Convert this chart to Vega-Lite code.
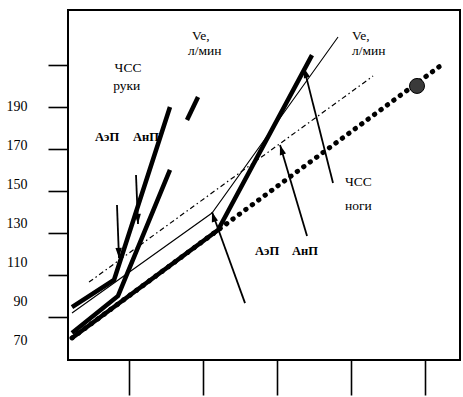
{
  "$schema": "https://vega.github.io/schema/vega-lite/v6.json",
  "width": 392,
  "height": 350,
  "autosize": {"type": "none"},
  "padding": {"left": 68, "top": 10, "right": 3, "bottom": 37},
  "background": "white",
  "config": {
    "view": {"stroke": "black", "strokeWidth": 2},
    "axis": {"domain": false, "grid": false, "tickColor": "black", "labelColor": "black", "title": null}
  },
  "datasets": {
    "lines": [
      {"series": "ruki_a", "x": 0.224, "y": 94.7},
      {"series": "ruki_a", "x": 0.792, "y": 107.6},
      {"series": "ruki_a", "x": 1.548, "y": 190.0},
      {"series": "ruki_b", "x": 0.224, "y": 82.4},
      {"series": "ruki_b", "x": 0.846, "y": 100.0},
      {"series": "ruki_b", "x": 1.548, "y": 160.0},
      {"series": "ruki_b2", "x": 1.778, "y": 183.8},
      {"series": "ruki_b2", "x": 1.927, "y": 194.7},
      {"series": "nogi", "x": 0.224, "y": 80.0},
      {"series": "nogi", "x": 2.197, "y": 131.4},
      {"series": "nogi", "x": 3.467, "y": 214.7},
      {"series": "ve", "x": 0.224, "y": 91.9},
      {"series": "ve", "x": 2.116, "y": 139.5},
      {"series": "ve", "x": 3.819, "y": 223.3},
      {"series": "dashdot", "x": 0.454, "y": 106.6},
      {"series": "dashdot", "x": 4.292, "y": 204.7},
      {"series": "dotted", "x": 0.224, "y": 80.0},
      {"series": "dotted", "x": 5.237, "y": 210.5}
    ],
    "arrows": [
      {"x": 0.832, "y": 143.3, "x2": 0.859, "y2": 118.1, "dir": "down"},
      {"x": 1.089, "y": 157.6, "x2": 1.116, "y2": 134.3, "dir": "down"},
      {"x": 2.562, "y": 96.6, "x2": 2.116, "y2": 140.0, "dir": "up"},
      {"x": 3.400, "y": 128.5, "x2": 3.035, "y2": 171.9, "dir": "up"},
      {"x": 3.751, "y": 153.8, "x2": 3.359, "y2": 208.5, "dir": "up"}
    ],
    "labels": [
      {"text": "ЧСС", "kind": "name", "x": 0.80, "y": 208.6},
      {"text": "руки", "kind": "name", "x": 0.78, "y": 200.0},
      {"text": "Ve,", "kind": "name", "x": 1.846, "y": 223.8},
      {"text": "л/мин", "kind": "name", "x": 1.792, "y": 216.6},
      {"text": "Ve,", "kind": "name", "x": 4.008, "y": 223.8},
      {"text": "л/мин", "kind": "name", "x": 4.008, "y": 216.6},
      {"text": "ЧСС", "kind": "name", "x": 3.913, "y": 154.3},
      {"text": "ноги", "kind": "name", "x": 3.913, "y": 142.8},
      {"text": "АэП", "kind": "threshold", "x": 0.535, "y": 175.7},
      {"text": "АнП", "kind": "threshold", "x": 1.048, "y": 175.7},
      {"text": "АэП", "kind": "threshold", "x": 2.697, "y": 121.4},
      {"text": "АнП", "kind": "threshold", "x": 3.197, "y": 121.4}
    ],
    "marker": [
      {"x": 4.886, "y": 200.0}
    ]
  },
  "encoding": {
    "x": {
      "field": "x", "type": "quantitative",
      "scale": {"domain": [0.17, 5.467], "nice": false, "zero": false},
      "axis": {"values": [1, 2, 3, 4, 5], "labels": false, "tickSize": 35, "tickWidth": 1.6}
    },
    "y": {
      "field": "y", "type": "quantitative",
      "scale": {"domain": [69.5, 236.17], "nice": false, "zero": false},
      "axis": {
        "values": [70, 90, 110, 130, 150, 170, 190, 210],
        "labelExpr": "datum.value == 210 ? '' : datum.label",
        "tickSize": 20,
        "tickWidth": 1.6,
        "tickOpacity": {"condition": {"test": "datum.value == 70", "value": 0}, "value": 1},
        "labelOffset": {"expr": "(datum.value - 190) * 0.155"},
        "labelPadding": 21,
        "labelFont": "Liberation Serif",
        "labelFontSize": 14
      }
    }
  },
  "layer": [
    {
      "data": {"name": "lines"},
      "transform": [{"filter": "datum.series == 'dotted'"}],
      "mark": {"type": "line", "color": "black", "strokeWidth": 5, "strokeCap": "round", "strokeDash": [0.5, 7.5]},
      "encoding": {"detail": {"field": "series"}}
    },
    {
      "data": {"name": "lines"},
      "transform": [{"filter": "datum.series == 'ruki_a' || datum.series == 'ruki_b' || datum.series == 'ruki_b2' || datum.series == 'nogi'"}],
      "mark": {"type": "line", "color": "black", "strokeWidth": 4.5, "strokeCap": "butt"},
      "encoding": {"detail": {"field": "series"}}
    },
    {
      "data": {"name": "lines"},
      "transform": [{"filter": "datum.series == 've'"}],
      "mark": {"type": "line", "color": "black", "strokeWidth": 1.1},
      "encoding": {"detail": {"field": "series"}}
    },
    {
      "data": {"name": "lines"},
      "transform": [{"filter": "datum.series == 'dashdot'"}],
      "mark": {"type": "line", "color": "black", "strokeWidth": 1.2, "strokeDash": [5, 3, 1.5, 3]},
      "encoding": {"detail": {"field": "series"}}
    },
    {
      "data": {"name": "marker"},
      "mark": {"type": "point", "shape": "circle", "filled": true, "size": 225, "fill": "#3a3a3a", "stroke": "black", "strokeWidth": 1, "opacity": 1}
    },
    {
      "data": {"name": "arrows"},
      "mark": {"type": "rule", "color": "black", "strokeWidth": 1.8},
      "encoding": {"x2": {"field": "x2"}, "y2": {"field": "y2"}}
    },
    {
      "data": {"name": "arrows"},
      "transform": [{"filter": "datum.dir == 'down'"}],
      "mark": {"type": "point", "shape": "M0,0L-0.8,2.5L0.8,2.5Z", "filled": true, "size": 64, "color": "black", "opacity": 1, "angle": 178},
      "encoding": {"x": {"field": "x2", "type": "quantitative"}, "y": {"field": "y2", "type": "quantitative"}}
    },
    {
      "data": {"name": "arrows"},
      "transform": [{"filter": "datum.dir == 'up'"}],
      "mark": {"type": "point", "shape": "M0,0L-0.8,2.5L0.8,2.5Z", "filled": true, "size": 64, "color": "black", "opacity": 1, "angle": -17},
      "encoding": {"x": {"field": "x2", "type": "quantitative"}, "y": {"field": "y2", "type": "quantitative"}}
    },
    {
      "data": {"name": "labels"},
      "transform": [{"filter": "datum.kind == 'name'"}],
      "mark": {"type": "text", "align": "left", "baseline": "middle", "font": "Liberation Serif", "fontSize": 13.5, "color": "black"},
      "encoding": {"text": {"field": "text"}}
    },
    {
      "data": {"name": "labels"},
      "transform": [{"filter": "datum.kind == 'threshold'"}],
      "mark": {"type": "text", "align": "left", "baseline": "middle", "font": "Liberation Serif", "fontSize": 12.5, "fontWeight": "bold", "color": "black"},
      "encoding": {"text": {"field": "text"}}
    }
  ]
}
